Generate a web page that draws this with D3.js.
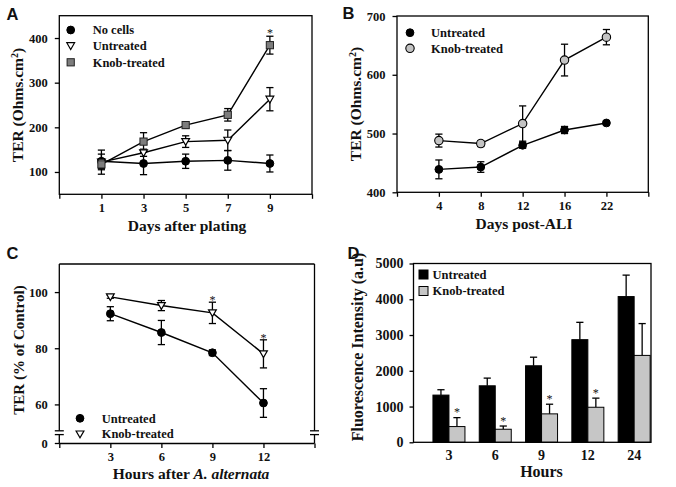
<!DOCTYPE html>
<html><head><meta charset="utf-8">
<script src="https://cdn.jsdelivr.net/npm/d3@7"></script>
<style>
body{margin:0;background:#fff}
svg{display:block;background:#fff}
text{font-family:"Liberation Serif","Times New Roman",serif;font-weight:bold;fill:#111}
text.panel{font-family:"Liberation Sans",Arial,sans-serif;font-weight:bold}
</style></head>
<body><svg id="c" width="676" height="487"></svg>
<script>
// ---------- Panel A data ----------
const aDays = [1, 3, 5, 7, 9];
const aNoCells = [124, 119, 124, 126, 119];
const aNoCellsErr = [16, 25, 16, 22, 19];
const aUntreated = [122, 143, 168, 171, 263];
const aUntreatedErr = [27, 8, 13, 23, 26];
const aKnob = [117, 168, 205, 228, 384];
const aKnobErr = [12, 20, 7, 14, 20];
const aStars = [9];
const aXTicks = [-1, 1, 3, 5, 7, 9, 11];
const aYTicks = [100, 200, 300, 400];

// ---------- Panel B data ----------
const bDays = ["4", "8", "12", "16", "22"];
const bUntreated = [439, 443, 480, 506, 518];
const bUntreatedErr = [16, 9, 5, 6, 3];
const bKnob = [488, 483, 517, 625, 664];
const bKnobErr = [11, 5, 30, 27, 13];
const bYTicks = [400, 500, 600, 700];

// ---------- Panel C data ----------
const cHours = [3, 6, 9, 12];
const cUntreated = [92.3, 85.6, 78.4, 60.5];
const cUntreatedErr = [2.5, 4.3, 1, 5.1];
const cKnob = [98.3, 95.2, 92.6, 78];
const cKnobErr = [0.5, 1.8, 3.8, 5];
const cStars = [9, 12];
const cXTicks = [0, 3, 6, 9, 12, 15];
const cYTicks = [60, 80, 100];

// ---------- Panel D data ----------
const dHours = ["3", "6", "9", "12", "24"];
const dUntreated = [1320, 1580, 2140, 2870, 4075];
const dUntreatedErr = [150, 215, 240, 485, 600];
const dKnob = [440, 365, 795, 980, 2430];
const dKnobErr = [250, 90, 270, 255, 890];
const dStars = ["3", "6", "9", "12"];
const dYTicks = [0, 1000, 2000, 3000, 4000, 5000];

const svg = d3.select("#c");
const LW = 1.3;
const GRAY_SQ = "#7d7d7d", GRAY_CIRC = "#c3c3c3", GRAY_BAR = "#c6c6c6";

function box(x0, y0, x1, y1) {
  svg.append("rect").attr("x", x0).attr("y", y0).attr("width", x1 - x0).attr("height", y1 - y0)
    .attr("fill", "none").attr("stroke", "#000").attr("stroke-width", LW);
}
function styleAxis(g, fs) {
  g.attr("font-size", null).attr("font-family", null);
  g.select(".domain").remove();
  g.selectAll(".tick line").attr("stroke", "#000").attr("stroke-width", LW);
  g.selectAll(".tick text").style("font-size", fs + "px").attr("fill", "#111");
}
function marker(type, x, y) {
  if (type === "circleBlack") {
    svg.append("circle").attr("cx", x).attr("cy", y).attr("r", 3.9).attr("fill", "#000").attr("stroke", "#000").attr("stroke-width", 1);
  } else if (type === "circleGray") {
    svg.append("circle").attr("cx", x).attr("cy", y).attr("r", 4.2).attr("fill", GRAY_CIRC).attr("stroke", "#000").attr("stroke-width", 1.1);
  } else if (type === "square") {
    svg.append("rect").attr("x", x - 3.6).attr("y", y - 3.6).attr("width", 7.2).attr("height", 7.2).attr("fill", GRAY_SQ).attr("stroke", "#222").attr("stroke-width", 1);
  } else if (type === "triangle") {
    svg.append("path").attr("d", `M${x - 3.9},${y - 3}L${x + 3.9},${y - 3}L${x},${y + 3.8}Z`).attr("fill", "#fff").attr("stroke", "#000").attr("stroke-width", 1.2);
  }
}
function series(xs, vals, errs, xs_, ys_) {
  const line = d3.line().x((d, i) => xs_(xs[i])).y(d => ys_(d));
  svg.append("path").attr("d", line(vals)).attr("fill", "none").attr("stroke", "#000").attr("stroke-width", 1.4);
  return () => {
    vals.forEach((v, i) => {
      const x = xs_(xs[i]), y1 = ys_(v - errs[i]), y2 = ys_(v + errs[i]);
      svg.append("line").attr("x1", x).attr("x2", x).attr("y1", y1).attr("y2", y2).attr("stroke", "#000").attr("stroke-width", 1.3);
      [y1, y2].forEach(yy => svg.append("line").attr("x1", x - 3.6).attr("x2", x + 3.6).attr("y1", yy).attr("y2", yy).attr("stroke", "#000").attr("stroke-width", 1.3));
    });
  };
}
function markers(xs, vals, xs_, ys_, type) {
  vals.forEach((v, i) => marker(type, xs_(xs[i]), ys_(v)));
}
function star(x, y) {
  svg.append("text").attr("x", x).attr("y", y).attr("text-anchor", "middle")
    .style("font-size", "12px").style("font-weight", "normal").attr("fill", "#555").text("*");
}
function legend(items, mx, tx, fs) {
  items.forEach(it => {
    if (it.type === "barBlack" || it.type === "barGray") {
      svg.append("rect").attr("x", mx - 4.5).attr("y", it.y - 4.5).attr("width", 9).attr("height", 9)
        .attr("fill", it.type === "barBlack" ? "#000" : GRAY_BAR).attr("stroke", "#000").attr("stroke-width", 1);
    } else marker(it.type, mx, it.y);
    svg.append("text").attr("x", tx).attr("y", it.y + 4.4).style("font-size", fs + "px").text(it.label);
  });
}
function yLabel(x, y, fs, build) {
  const t = svg.append("text").attr("transform", `translate(${x},${y}) rotate(-90)`)
    .attr("text-anchor", "middle").attr("dy", "0.35em").style("font-size", fs + "px");
  build(t);
}
function xLabel(x, y, fs, build) {
  const t = svg.append("text").attr("x", x).attr("y", y).attr("text-anchor", "middle").style("font-size", fs + "px");
  build(t);
}
function panelLetter(x, y, s) {
  svg.append("text").attr("class", "panel").attr("x", x).attr("y", y).style("font-size", "16.5px").attr("fill", "#000").text(s);
}

// ================= Panel A =================
{
  const xA = d3.scaleLinear().domain([-1, 11]).range([59.3, 312]);
  const yA = d3.scaleLinear().domain([50, 450]).range([194.3, 15.7]);
  box(59.3, 15.7, 312, 194.3);
  const gx = svg.append("g").attr("transform", "translate(0,194.3)")
    .call(d3.axisBottom(xA).tickValues(aXTicks).tickSize(4.5).tickPadding(4.5)
      .tickFormat(d => (d < 1 || d > 9) ? "" : d));
  styleAxis(gx, 12.5);
  const gy = svg.append("g").attr("transform", "translate(59.3,0)")
    .call(d3.axisLeft(yA).tickValues(aYTicks).tickSize(4.5).tickPadding(7));
  styleAxis(gy, 12.5);
  const e1 = series(aDays, aNoCells, aNoCellsErr, xA, yA);
  const e2 = series(aDays, aUntreated, aUntreatedErr, xA, yA);
  const e3 = series(aDays, aKnob, aKnobErr, xA, yA);
  e1(); e2(); e3();
  markers(aDays, aNoCells, xA, yA, "circleBlack");
  markers(aDays, aUntreated, xA, yA, "triangle");
  markers(aDays, aKnob, xA, yA, "square");
  aStars.forEach(d => { const i = aDays.indexOf(d); star(xA(d), yA(aKnob[i] + aKnobErr[i]) + 1); });
  legend([{type: "circleBlack", y: 30, label: "No cells"}, {type: "triangle", y: 45.7, label: "Untreated"},
          {type: "square", y: 62.3, label: "Knob-treated"}], 70.7, 92.7, 12.5);
  yLabel(18, 105, 15.5, t => { t.append("tspan").text("TER (Ohms.cm");
    t.append("tspan").attr("baseline-shift", "super").style("font-size", "10px").text("2");
    t.append("tspan").text(")"); });
  xLabel(187, 230.5, 15.5, t => t.text("Days after plating"));
  panelLetter(6.5, 20, "A");
}

// ================= Panel B =================
{
  const xB = d3.scaleLinear().domain([0, 6]).range([397, 648.3]);
  const yB = d3.scaleLinear().domain([400, 700]).range([192.3, 16]);
  box(397, 16, 648.3, 192.3);
  const gx = svg.append("g").attr("transform", "translate(0,192.3)")
    .call(d3.axisBottom(xB).tickValues(d3.range(0, 7)).tickSize(4.5).tickPadding(4.5)
      .tickFormat(d => bDays[d - 1] || ""));
  styleAxis(gx, 12.5);
  const gy = svg.append("g").attr("transform", "translate(397,0)")
    .call(d3.axisLeft(yB).tickValues(bYTicks).tickSize(4.5).tickPadding(7));
  styleAxis(gy, 12.5);
  const idx = bDays.map((d, i) => i + 1);
  const e1 = series(idx, bUntreated, bUntreatedErr, xB, yB);
  const e2 = series(idx, bKnob, bKnobErr, xB, yB);
  e1(); e2();
  markers(idx, bUntreated, xB, yB, "circleBlack");
  markers(idx, bKnob, xB, yB, "circleGray");
  legend([{type: "circleBlack", y: 32.7, label: "Untreated"}, {type: "circleGray", y: 48.3, label: "Knob-treated"}], 410, 431, 12.5);
  yLabel(355.5, 104, 15.5, t => { t.append("tspan").text("TER (Ohms.cm");
    t.append("tspan").attr("baseline-shift", "super").style("font-size", "10px").text("2");
    t.append("tspan").text(")"); });
  xLabel(524, 229, 15.5, t => t.text("Days post-ALI"));
  panelLetter(342.5, 19, "B");
}

// ================= Panel C =================
{
  const L = 59.3, R = 314.5, T = 264, B = 443.5, b1 = 430.8, b2 = 434.6;
  const xC = d3.scaleLinear().domain([0, 15]).range([L, R]);
  const yC = d3.scaleLinear().domain([50, 110]).range([432.5, T]);
  const ln = (x1, y1, x2, y2) => svg.append("line").attr("x1", x1).attr("y1", y1).attr("x2", x2).attr("y2", y2)
    .attr("stroke", "#000").attr("stroke-width", LW);
  ln(L, T, R, T); ln(L, B, R, B);
  [L, R].forEach(x => { ln(x, T, x, b1); ln(x, b2, x, B); ln(x - 4.5, b1, x + 4.5, b1); ln(x - 4.5, b2, x + 4.5, b2); });
  const gx = svg.append("g").attr("transform", `translate(0,${B})`)
    .call(d3.axisBottom(xC).tickValues(cXTicks).tickSize(4.5).tickPadding(4)
      .tickFormat(d => (d < 3 || d > 12) ? "" : d));
  styleAxis(gx, 12.5);
  const gy = svg.append("g").attr("transform", `translate(${L},0)`)
    .call(d3.axisLeft(yC).tickValues(cYTicks).tickSize(4.5).tickPadding(7));
  styleAxis(gy, 12.5);
  ln(L - 4.5, B, L, B);
  svg.append("text").attr("x", L - 11.5).attr("y", B).attr("dy", "0.32em").attr("text-anchor", "end").style("font-size", "12.5px").text("0");
  const e1 = series(cHours, cUntreated, cUntreatedErr, xC, yC);
  const e2 = series(cHours, cKnob, cKnobErr, xC, yC);
  e1(); e2();
  markers(cHours, cUntreated, xC, yC, "circleBlack");
  markers(cHours, cKnob, xC, yC, "triangle");
  cStars.forEach(d => { const i = cHours.indexOf(d); star(xC(d), yC(cKnob[i] + cKnobErr[i]) + 2); });
  legend([{type: "circleBlack", y: 418.3, label: "Untreated"}, {type: "triangle", y: 434, label: "Knob-treated"}], 80, 101.7, 12.5);
  yLabel(18.5, 350, 15, t => t.text("TER (% of Control)"));
  xLabel(191, 479, 15.5, t => { t.append("tspan").text("Hours after ");
    t.append("tspan").style("font-style", "italic").text("A. alternata"); });
  panelLetter(6.5, 258.5, "C");
}

// ================= Panel D =================
{
  const L = 413.5, R = 651, T = 263.5, B = 442.3;
  const xD = d3.scaleBand().domain(dHours).range([425.8, 657.3]).padding(0);
  const yD = d3.scaleLinear().domain([0, 5000]).range([B, T]);
  const bw = 16;
  const cx = d => xD(d) + xD.bandwidth() / 2;
  const errUp = (v, e, xc) => {
    svg.append("line").attr("x1", xc).attr("x2", xc).attr("y1", yD(v)).attr("y2", yD(v + e)).attr("stroke", "#000").attr("stroke-width", 1.3);
    svg.append("line").attr("x1", xc - 3.6).attr("x2", xc + 3.6).attr("y1", yD(v + e)).attr("y2", yD(v + e)).attr("stroke", "#000").attr("stroke-width", 1.3);
  };
  dHours.forEach((d, i) => { errUp(dUntreated[i], dUntreatedErr[i], cx(d) - bw / 2); errUp(dKnob[i], dKnobErr[i], cx(d) + bw / 2); });
  svg.append("g").selectAll("rect").data(dHours).join("rect")
    .attr("x", d => cx(d) - bw).attr("width", bw)
    .attr("y", (d, i) => yD(dUntreated[i])).attr("height", (d, i) => B - yD(dUntreated[i]))
    .attr("fill", "#000").attr("stroke", "#000").attr("stroke-width", 1);
  svg.append("g").selectAll("rect").data(dHours).join("rect")
    .attr("x", d => cx(d)).attr("width", bw)
    .attr("y", (d, i) => yD(dKnob[i])).attr("height", (d, i) => B - yD(dKnob[i]))
    .attr("fill", GRAY_BAR).attr("stroke", "#000").attr("stroke-width", 1);
  box(L, T, R, B);
  const gx = svg.append("g").attr("transform", `translate(0,${B})`)
    .call(d3.axisBottom(xD).tickSize(0).tickPadding(8));
  styleAxis(gx, 14);
  const gy = svg.append("g").attr("transform", `translate(${L},0)`)
    .call(d3.axisLeft(yD).tickValues(dYTicks).tickFormat(d3.format("d")).tickSize(4).tickPadding(6));
  styleAxis(gy, 14);
  dStars.forEach(d => { const i = dHours.indexOf(d); star(cx(d) + bw / 2, yD(dKnob[i] + dKnobErr[i]) - 1.5); });
  legend([{type: "barBlack", y: 274.5, label: "Untreated"}, {type: "barGray", y: 291, label: "Knob-treated"}], 423.5, 432.5, 12.5);
  yLabel(357.7, 347, 16, t => t.text("Fluorescence Intensity (a.u)"));
  xLabel(541.5, 477, 16, t => t.text("Hours"));
  panelLetter(347.5, 258.5, "D");
}
</script>
</body></html>
